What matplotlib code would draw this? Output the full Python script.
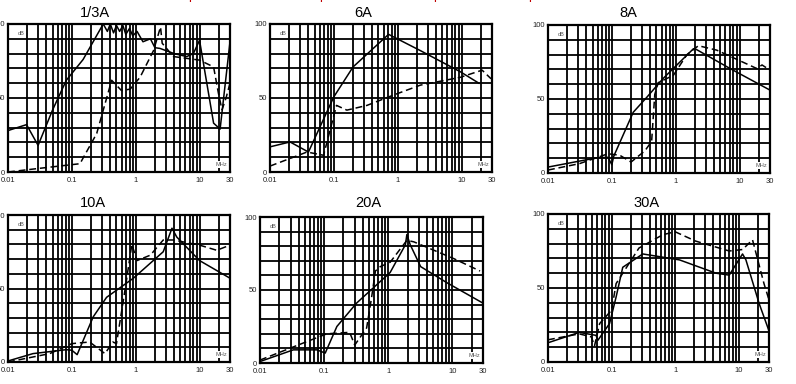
import numpy as np
import matplotlib
matplotlib.use("Agg")
import matplotlib.pyplot as plt
from matplotlib.ticker import FixedLocator, NullFormatter

plt.rcParams["font.family"] = ["Liberation Sans", "DejaVu Sans"]

W, H = 796, 384

# panel titles
titles = ["1/3A", "6A", "8A", "10A", "20A", "30A"]

# solid curves (freq MHz, dB)
solid_f = [
    [0.01, 0.0195, 0.0296, 0.05, 0.082, 0.15, 0.31, 0.36, 0.4, 0.45, 0.5, 0.56, 0.63, 0.7, 0.8, 0.9, 1.05, 1.3, 1.7, 2.0, 2.4, 4.0, 6.3, 8.0, 10.0, 16.6, 21.0, 30.0],
    [0.01, 0.0206, 0.04, 0.1, 0.2, 0.72, 2.27, 9.6, 18.7],
    [0.01, 0.057, 0.087, 0.1, 0.107, 0.216, 0.35, 0.64, 1.9, 2.1, 7.1, 30.0],
    [0.01, 0.0246, 0.082, 0.1, 0.121, 0.216, 0.35, 0.92, 2.7, 3.7, 4.4, 10.0, 30.0],
    [0.01, 0.033, 0.077, 0.104, 0.158, 0.32, 1.07, 1.85, 1.95, 2.2, 3.2, 8.2, 30.0],
    [0.01, 0.031, 0.057, 0.061, 0.093, 0.118, 0.15, 0.31, 1.17, 4.4, 7.1, 11.5, 13.0, 21.0, 30.0],
]
solid_db = [
    [28, 32, 18, 42, 62, 76, 100, 95, 100, 94, 99, 95, 99, 93, 97, 92, 95, 88, 90, 84, 83.5, 80, 78, 80, 89, 33, 29, 88],
    [17, 20.3, 13.5, 50.8, 71, 93, 82, 67.7, 60],
    [4, 10.2, 10.6, 5.6, 11.3, 41, 51, 64, 84, 83.5, 70.6, 56],
    [0.7, 5.7, 8.4, 8, 5, 30.7, 44, 57, 75, 91, 85, 69, 57],
    [1, 9, 9, 6.8, 25, 41, 62, 81, 88, 81, 66, 55, 41],
    [13, 20, 18, 14.7, 26, 44, 64, 73, 69, 60, 58.7, 73, 69, 39.5, 21],
]

# dashed curves
dash_f = [
    [0.01, 0.025, 0.134, 0.245, 0.42, 0.6, 0.82, 1.17, 1.9, 2.45, 2.6, 3.9, 10.0, 16.6, 19.8, 22.5, 26.0, 30.0],
    [0.01, 0.038, 0.069, 0.11, 0.16, 0.33, 0.86, 2.27, 9.6, 21.0, 29.0],
    [0.01, 0.031, 0.087, 0.133, 0.2, 0.33, 0.42, 0.47, 0.53, 0.92, 1.5, 2.27, 4.4, 18.6, 22.5, 30.0],
    [0.01, 0.045, 0.1, 0.19, 0.33, 0.44, 0.5, 0.68, 0.87, 1.05, 1.7, 2.7, 3.9, 10.0, 18.6, 30.0],
    [0.01, 0.033, 0.11, 0.25, 0.3, 0.46, 0.55, 0.63, 0.75, 1.07, 1.95, 2.5, 10.5, 27.0],
    [0.01, 0.031, 0.048, 0.054, 0.065, 0.1, 0.118, 0.27, 0.64, 1.0, 2.1, 7.1, 11.5, 16.5, 25.0, 30.0],
]
dash_db = [
    [0, 2, 5.6, 26, 62, 55, 56, 64, 82, 98, 87, 78, 75.6, 71, 53, 42, 50, 60],
    [4, 13.5, 11.3, 45, 41.8, 45, 52, 58.7, 64, 68.8, 63],
    [2, 6.3, 13, 12, 7.4, 15, 21.4, 53, 61, 66, 80, 86, 83, 70.6, 73, 69.5],
    [0, 5.7, 12.5, 13.6, 5.7, 13.6, 12.5, 49, 80, 69, 72.7, 83, 83, 79.5, 76, 79.5],
    [2, 11, 20, 21, 12.3, 24, 45, 63, 66, 69, 84, 83, 71.5, 63],
    [15, 19, 17, 11, 26, 35, 53, 77, 86, 88, 81.7, 75, 76, 82.6, 53, 42],
]

# axes boxes in pixels: left, right, top, bottom
boxes = [(8, 230, 24, 172), (270, 492, 24, 172), (548, 770, 25, 173),
         (8, 230, 215, 362), (260, 483, 217, 363), (548, 769, 214, 362)]
title_pos = [(95, 13), (363, 13), (628, 13), (93, 203), (368, 203), (647, 203)]

fig = plt.figure(figsize=(W / 100, H / 100), dpi=100)

minor = [m * 10.0 ** e for e in range(-2, 2) for m in range(2, 10)]
minor = [v for v in minor if v <= 30]

for i in range(6):
    l, r, t, b = boxes[i]
    ax = fig.add_axes([l / W, 1 - b / H, (r - l) / W, (b - t) / H])
    ax.set_xscale("log")
    ax.set_xlim(0.01, 30)
    ax.set_ylim(0, 100)
    for v in [0.01, 0.1, 1, 10] + minor:
        ax.axvline(v, color="black", lw=1.3, zorder=1)
    for v in range(10, 100, 10):
        ax.axhline(v, color="black", lw=1.3, zorder=1)
    ax.plot(solid_f[i], solid_db[i], "-", color="black", lw=1.1, zorder=3)
    ax.plot(dash_f[i], dash_db[i], "--", color="black", lw=1.1, dashes=(4.5, 2.5), zorder=3)
    ax.xaxis.set_major_locator(FixedLocator([0.01, 0.1, 1, 10, 30]))
    ax.xaxis.set_minor_locator(FixedLocator([]))
    ax.set_xticklabels(["0.01", "0.1", "1", "10", "30"])
    ax.xaxis.set_minor_formatter(NullFormatter())
    ax.set_yticks([0, 50, 100])
    ax.set_yticklabels(["0", "50", "100"])
    ax.tick_params(length=0, labelsize=5.5, colors="#222222")
    ax.tick_params(axis="x", pad=3.5)
    ax.tick_params(axis="y", pad=2)
    for s in ax.spines.values():
        s.set_linewidth(1.6)
    ax.text(0.045, 0.95, "dB", transform=ax.transAxes, fontsize=4, color="#555555",
            ha="left", va="top", zorder=4)
    ax.text(0.985, 0.035, "MHz", transform=ax.transAxes, fontsize=4, color="#555555",
            ha="right", va="bottom", zorder=4,
            bbox=dict(boxstyle="square,pad=0.15", fc="white", ec="none"))
    tx, ty = title_pos[i]
    fig.text(tx / W, 1 - ty / H, titles[i], fontsize=10.5, ha="center", va="center")

# cut-off red caption text at the very top edge
for x in [192, 323, 437, 532]:
    fig.text(x / W, 1 + 1 / H, "p", color="#c00000", fontsize=9, ha="center", va="baseline")

fig.savefig("out.png", dpi=100)
